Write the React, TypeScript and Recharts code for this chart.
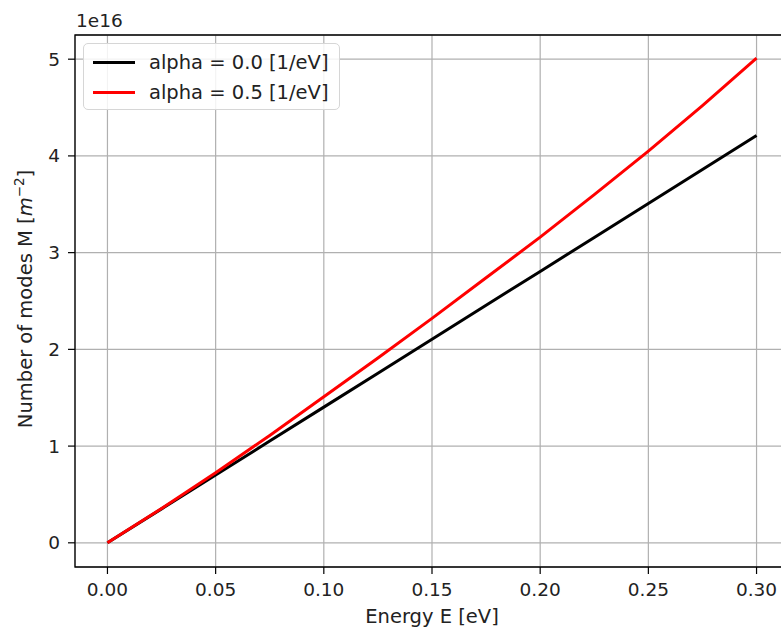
import React from "react"
import { LineChart, Line, XAxis, YAxis, CartesianGrid, ReferenceArea } from "recharts"

// energy (eV) and number of modes (units of 1e16 m^-2)
const energy = [0, 0.025, 0.05, 0.075, 0.1, 0.125, 0.15, 0.175, 0.2, 0.225, 0.25, 0.275, 0.3]
const alpha0 = [0, 0.351, 0.702, 1.052, 1.403, 1.754, 2.105, 2.456, 2.806, 3.157, 3.508, 3.859, 4.21]
const alpha05 = [0, 0.355, 0.725, 1.11, 1.51, 1.91, 2.32, 2.74, 3.16, 3.6, 4.05, 4.52, 5.01]

const xTicks = [0, 0.05, 0.1, 0.15, 0.2, 0.25, 0.3]
const yTicks = [0, 1, 2, 3, 4, 5]

const seriesNames = ["alpha = 0.0 [1/eV]", "alpha = 0.5 [1/eV]"]
const seriesColors = ["#000000", "#ff0000"]

const data = energy.map((e, i) => ({ e, a0: alpha0[i], a5: alpha05[i] }))

const FONT = "DejaVu Sans, sans-serif"
const TEXT = "#222"

function YLabel() {
  return (
    <g fontFamily={FONT} fill={TEXT}>
      <text x={76} y={27} fontSize={18.5}>
        1e16
      </text>
      <text x={32} y={299} fontSize={19.5} textAnchor="middle" transform="rotate(-90 32 299)">
        Number of modes M [<tspan fontStyle="italic">m</tspan>
        <tspan dy={-8} fontSize={13.5}>−2</tspan>
        <tspan dy={8}>]</tspan>
      </text>
    </g>
  )
}

function LegendBox() {
  return (
    <div
      style={{
        position: "absolute",
        left: 83,
        top: 43,
        width: 255,
        height: 65,
        boxSizing: "content-box",
        border: "1px solid #d6d6d6",
        borderRadius: 5,
        background: "rgba(255,255,255,0.85)",
        fontFamily: FONT,
        fontSize: 19.5,
        color: TEXT,
      }}
    >
      {seriesNames.map((name, i) => (
        <div
          key={name}
          style={{ position: "absolute", left: 9, top: 3 + i * 30, height: 30, display: "flex", alignItems: "center", whiteSpace: "nowrap" }}
        >
          <div style={{ width: 42, height: 3, background: seriesColors[i], marginRight: 14 }} />
          <span>{name}</span>
        </div>
      ))}
    </div>
  )
}

export default function App() {
  return (
    <div style={{ position: "fixed", left: 0, top: 0, width: 781, height: 630, overflow: "hidden", background: "#fff" }}>
      <LineChart width={800} height={630} data={data} margin={{ top: 35, right: 11, bottom: 0, left: 0 }}>
        <CartesianGrid stroke="#b0b0b0" strokeWidth={1.2} />
        <XAxis
          type="number"
          dataKey="e"
          domain={[-0.015, 0.315]}
          ticks={xTicks}
          tickFormatter={(v: number) => v.toFixed(2)}
          height={63}
          axisLine={false}
          tickLine={{ stroke: "#000", strokeWidth: 1.2 }}
          tickSize={7}
          tickMargin={9}
          tick={{ fill: TEXT, fontSize: 18.5, fontFamily: FONT }}
          label={{ value: "Energy E [eV]", position: "insideBottom", offset: 7, fill: TEXT, fontSize: 19.5, fontFamily: FONT }}
          allowDataOverflow
        />
        <YAxis
          type="number"
          domain={[-0.25, 5.25]}
          ticks={yTicks}
          width={75}
          axisLine={false}
          tickLine={{ stroke: "#000", strokeWidth: 1.2 }}
          tickSize={7}
          tickMargin={8}
          tick={{ fill: TEXT, fontSize: 18.5, fontFamily: FONT }}
          label={{ content: () => <YLabel /> }}
          allowDataOverflow
        />
        <Line
          type="linear"
          dataKey="a0"
          name={seriesNames[0]}
          stroke={seriesColors[0]}
          strokeWidth={3}
          dot={false}
          isAnimationActive={false}
        />
        <Line
          type="linear"
          dataKey="a5"
          name={seriesNames[1]}
          stroke={seriesColors[1]}
          strokeWidth={3}
          dot={false}
          isAnimationActive={false}
        />
        <ReferenceArea x1={-0.015} x2={0.315} y1={-0.25} y2={5.25} fill="none" stroke="#000" strokeWidth={1.3} ifOverflow="visible" />
      </LineChart>
      <LegendBox />
    </div>
  )
}
